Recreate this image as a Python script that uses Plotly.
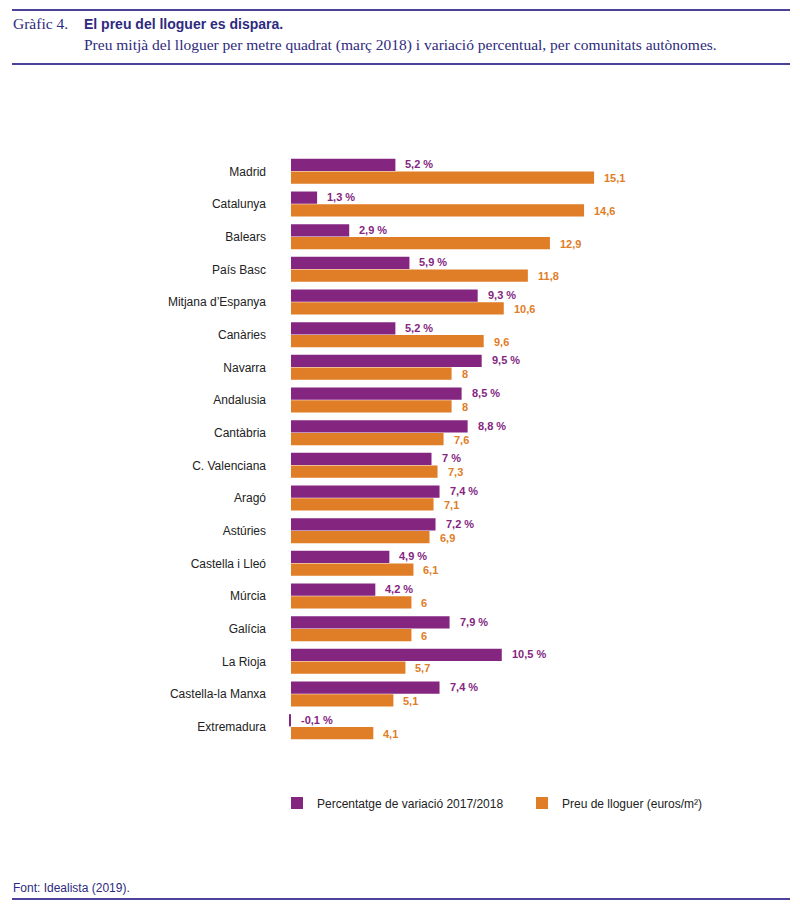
import plotly.graph_objects as go

# Data
regions = ["Madrid", "Catalunya", "Balears", "País Basc", "Mitjana d’Espanya",
           "Canàries", "Navarra", "Andalusia", "Cantàbria", "C. Valenciana",
           "Aragó", "Astúries", "Castella i Lleó", "Múrcia", "Galícia",
           "La Rioja", "Castella-la Manxa", "Extremadura"]
variation_pct = [5.2, 1.3, 2.9, 5.9, 9.3, 5.2, 9.5, 8.5, 8.8, 7.0,
                 7.4, 7.2, 4.9, 4.2, 7.9, 10.5, 7.4, -0.1]
rent_price = [15.1, 14.6, 12.9, 11.8, 10.6, 9.6, 8.0, 8.0, 7.6, 7.3,
              7.1, 6.9, 6.1, 6.0, 6.0, 5.7, 5.1, 4.1]

PURPLE = "#84267F"
ORANGE = "#E07D27"
NAVY = "#2E2A7E"
LINE = "#4A4399"

# the page has an 8px body margin, so the figure is a bit smaller and
# reference pixel positions are shifted by that margin
OFF = 8
W, H = 800 - OFF, 909 - OFF


def px(x):
    return (x - OFF) / W


def py(y):
    return 1 - (y - OFF) / H


def fmt(v, suffix=""):
    return f"{v:g}".replace(".", ",") + suffix


fig = go.Figure()
fig.add_trace(go.Bar(
    y=regions, x=variation_pct, orientation="h", name="Percentatge de variació 2017/2018",
    marker=dict(color=PURPLE, line=dict(width=0)),
))
fig.add_trace(go.Bar(
    y=regions, x=rent_price, orientation="h", name="Preu de lloguer (euros/m²)",
    marker=dict(color=ORANGE, line=dict(width=0)),
))

# value labels just beyond the end of each bar
for r, v in zip(regions, variation_pct):
    fig.add_annotation(x=max(v, 0), y=r, text=fmt(v, " %"), showarrow=False,
                       xanchor="left", xshift=8, yshift=7,
                       font=dict(family="Liberation Sans", size=11, color=PURPLE, weight="bold"))
for r, v in zip(regions, rent_price):
    fig.add_annotation(x=v, y=r, text=fmt(v), showarrow=False,
                       xanchor="left", xshift=8, yshift=-7,
                       font=dict(family="Liberation Sans", size=11, color=ORANGE, weight="bold"))

# header and footer
header = [
    dict(x=11, y=24, text="Gràfic 4.", font=dict(family="Liberation Serif", size=15.5, color=NAVY)),
    dict(x=82, y=24, text="<b>El preu del lloguer es dispara.</b>",
         font=dict(family="Liberation Sans", size=14, color=NAVY)),
    dict(x=82, y=45, text="Preu mitjà del lloguer per metre quadrat (març 2018) i variació percentual, per comunitats autònomes.",
         font=dict(family="Liberation Serif", size=15.5, color=NAVY)),
    dict(x=11, y=888, text="Font: Idealista (2019).",
         font=dict(family="Liberation Sans", size=12, color=NAVY)),
]
for h in header:
    fig.add_annotation(xref="paper", yref="paper", x=px(h["x"]), y=py(h["y"]),
                       text=h["text"], font=h["font"], showarrow=False,
                       xanchor="left", yanchor="middle")

shapes = []
for yy in (10, 64, 899):
    shapes.append(dict(type="line", xref="paper", yref="paper",
                       x0=px(12), x1=px(790), y0=py(yy), y1=py(yy),
                       line=dict(color=LINE, width=2)))

fig.update_layout(
    width=W, height=H,
    margin=dict(l=0, r=0, t=0, b=0, autoexpand=False),
    paper_bgcolor="white", plot_bgcolor="white",
    barmode="group", bargap=0.22, bargroupgap=0.04,
    showlegend=True,
    legend=dict(orientation="h", x=px(277), y=py(803), xanchor="left", yanchor="middle",
                font=dict(family="Liberation Sans", size=12, color="#222222"),
                itemwidth=30, entrywidth=200, bgcolor="rgba(0,0,0,0)"),
    shapes=shapes,
    xaxis=dict(domain=[px(288), px(790)], range=[-0.15, 24.86], visible=False, fixedrange=True),
    yaxis=dict(domain=[py(743), py(155)], autorange="reversed", showgrid=False,
               ticks="", ticklabelstandoff=21, zeroline=False, fixedrange=True,
               tickfont=dict(family="Liberation Sans", size=12, color="#222222")),
)

fig.write_html("out.html")
